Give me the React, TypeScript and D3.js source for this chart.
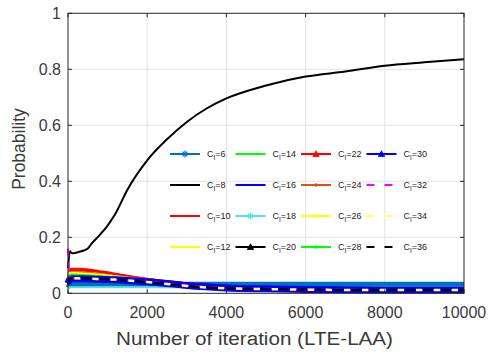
import React from "react";
import * as d3 from "d3";

// ---- data ----
const iterations = [0, 50, 100, 200, 300, 400, 500, 600, 800, 1000, 1200, 1500, 2000, 2500, 3000, 3500, 4000, 5000, 6000, 7000, 8000, 9000, 10000];

const p6 = [0.02, 0.03, 0.031, 0.031, 0.031, 0.031, 0.032, 0.032, 0.032, 0.032, 0.032, 0.032, 0.032, 0.032, 0.032, 0.032, 0.032, 0.032, 0.032, 0.032, 0.032, 0.032, 0.032];
const p8 = [0.09, 0.15, 0.143, 0.145, 0.149, 0.153, 0.16, 0.178, 0.208, 0.242, 0.285, 0.37, 0.475, 0.55, 0.612, 0.66, 0.696, 0.742, 0.774, 0.792, 0.813, 0.825, 0.836];
const p10 = [0.06, 0.085, 0.088, 0.088, 0.088, 0.087, 0.085, 0.083, 0.079, 0.075, 0.07, 0.063, 0.052, 0.043, 0.036, 0.031, 0.027, 0.022, 0.019, 0.017, 0.015, 0.014, 0.013];
const p12 = [0.07, 0.078, 0.078, 0.077, 0.076, 0.075, 0.074, 0.073, 0.07, 0.067, 0.064, 0.058, 0.049, 0.041, 0.035, 0.03, 0.026, 0.021, 0.018, 0.016, 0.014, 0.013, 0.012];
const p14 = [0.06, 0.07, 0.07, 0.07, 0.069, 0.068, 0.067, 0.066, 0.064, 0.062, 0.059, 0.054, 0.046, 0.039, 0.033, 0.028, 0.025, 0.02, 0.017, 0.015, 0.014, 0.013, 0.012];
const p16 = [0.04, 0.05, 0.051, 0.051, 0.05, 0.05, 0.049, 0.049, 0.048, 0.047, 0.046, 0.044, 0.039, 0.033, 0.027, 0.022, 0.019, 0.016, 0.014, 0.013, 0.012, 0.012, 0.012];
const p18 = [0.02, 0.022, 0.022, 0.022, 0.022, 0.022, 0.022, 0.022, 0.022, 0.022, 0.022, 0.022, 0.022, 0.022, 0.022, 0.022, 0.022, 0.022, 0.022, 0.022, 0.022, 0.022, 0.022];
const p20 = [0.035, 0.05, 0.052, 0.052, 0.052, 0.051, 0.051, 0.05, 0.049, 0.048, 0.047, 0.045, 0.04, 0.034, 0.028, 0.023, 0.019, 0.016, 0.014, 0.013, 0.012, 0.012, 0.012];
const p22 = [0.065, 0.08, 0.082, 0.082, 0.082, 0.081, 0.08, 0.079, 0.076, 0.072, 0.068, 0.061, 0.051, 0.042, 0.035, 0.03, 0.026, 0.021, 0.018, 0.016, 0.015, 0.014, 0.013];
const p24 = [0.068, 0.076, 0.076, 0.076, 0.075, 0.074, 0.073, 0.072, 0.069, 0.066, 0.062, 0.057, 0.048, 0.04, 0.034, 0.029, 0.025, 0.021, 0.018, 0.016, 0.014, 0.013, 0.012];
const p26 = [0.066, 0.073, 0.073, 0.073, 0.072, 0.071, 0.07, 0.069, 0.067, 0.064, 0.061, 0.056, 0.047, 0.04, 0.034, 0.029, 0.025, 0.02, 0.017, 0.015, 0.014, 0.013, 0.012];
const p28 = [0.058, 0.066, 0.066, 0.066, 0.065, 0.064, 0.064, 0.063, 0.061, 0.059, 0.056, 0.052, 0.045, 0.038, 0.032, 0.027, 0.024, 0.019, 0.016, 0.015, 0.014, 0.013, 0.012];
const p30 = [0.035, 0.05, 0.052, 0.052, 0.052, 0.052, 0.051, 0.051, 0.05, 0.049, 0.048, 0.046, 0.041, 0.035, 0.028, 0.023, 0.019, 0.016, 0.014, 0.013, 0.012, 0.012, 0.012];
const p32 = [0.16, 0.06, 0.054, 0.053, 0.053, 0.052, 0.052, 0.051, 0.05, 0.049, 0.048, 0.046, 0.041, 0.035, 0.028, 0.023, 0.019, 0.016, 0.014, 0.013, 0.012, 0.012, 0.012];
const p34 = [0.03, 0.052, 0.054, 0.054, 0.053, 0.053, 0.052, 0.052, 0.051, 0.05, 0.049, 0.046, 0.04, 0.033, 0.026, 0.021, 0.018, 0.015, 0.013, 0.012, 0.012, 0.012, 0.012];
const p36 = [0.03, 0.052, 0.054, 0.054, 0.053, 0.053, 0.052, 0.052, 0.051, 0.05, 0.049, 0.046, 0.04, 0.033, 0.026, 0.021, 0.018, 0.015, 0.013, 0.012, 0.012, 0.012, 0.012];

const ciLabels = ["6", "8", "10", "12", "14", "16", "18", "20", "22", "24", "26", "28", "30", "32", "34", "36"];
const seriesValues = [p6, p8, p10, p12, p14, p16, p18, p20, p22, p24, p26, p28, p30, p32, p34, p36];

const xTicks = [0, 2000, 4000, 6000, 8000, 10000];
const yTicks = [0, 0.2, 0.4, 0.6, 0.8, 1];

// ---- styles ----
type Style = { color: string; width: number; dash?: string; dashOffset?: number; marker?: "star" | "tri" | "dot"; legendWidth?: number };
const styles: Style[] = [
  { color: "#0072BD", width: 5, marker: "star", legendWidth: 2 },
  { color: "#000000", width: 2 },
  { color: "#FF0000", width: 2 },
  { color: "#FFFF00", width: 2 },
  { color: "#00FF00", width: 2 },
  { color: "#0000FF", width: 2 },
  { color: "#4FE3E8", width: 2, marker: "star" },
  { color: "#000000", width: 2, marker: "tri" },
  { color: "#FF0000", width: 2, marker: "tri" },
  { color: "#D95319", width: 2, marker: "dot" },
  { color: "#FFFF00", width: 2, marker: "dot" },
  { color: "#00FF00", width: 2, marker: "dot" },
  { color: "#0000FF", width: 7, marker: "tri", legendWidth: 2 },
  { color: "#FF00FF", width: 2, dash: "8,6" },
  { color: "#FFFF66", width: 2.5, dash: "6,12", dashOffset: -11 },
  { color: "#000000", width: 2.5, dash: "10,8" },
];

const W = 491;
const H = 354;
const left = 68;
const right = 464;
const top = 13.3;
const bottom = 293.3;

function Marker({ kind, x, y, color }: { kind?: string; x: number; y: number; color: string }) {
  if (!kind) return null;
  if (kind === "tri") {
    const s = 3.2;
    return <path d={`M${x},${y - s}L${x + s},${y + s * 0.8}L${x - s},${y + s * 0.8}Z`} fill={color} stroke={color} strokeWidth={0.8} />;
  }
  if (kind === "star") {
    const s = 3.5;
    return (
      <g stroke={color} strokeWidth={1.2}>
        <line x1={x - s} y1={y} x2={x + s} y2={y} />
        <line x1={x} y1={y - s} x2={x} y2={y + s} />
        <line x1={x - s * 0.7} y1={y - s * 0.7} x2={x + s * 0.7} y2={y + s * 0.7} />
        <line x1={x - s * 0.7} y1={y + s * 0.7} x2={x + s * 0.7} y2={y - s * 0.7} />
      </g>
    );
  }
  return <circle cx={x} cy={y} r={1.8} fill={color} />;
}

export default function App() {
  const x = d3.scaleLinear().domain([0, 10000]).range([left, right]);
  const y = d3.scaleLinear().domain([0, 1]).range([bottom, top]);
  const line = d3
    .line<number>()
    .x((_, i) => x(iterations[i]))
    .y((d) => y(d))
    .curve(d3.curveMonotoneX);

  const axisColor = "#262626";
  const tickColor = "#3a3a3a";
  const font = "'Liberation Sans', Arial, Helvetica, sans-serif";
  const tickLen = 4;

  const legendRowY = [154, 185, 216, 247];
  const legendColX = [170, 235.5, 301, 366.5];

  return (
    <svg width={W} height={H} style={{ position: "absolute", left: 0, top: 0, background: "#fff" }} fontFamily={font}>
      <rect x={0} y={0} width={W} height={H} fill="#fff" />
      {/* grid */}
      <g stroke="#e3e3e3" strokeWidth={1}>
        {xTicks.slice(1, -1).map((t) => (
          <line key={"gx" + t} x1={x(t)} x2={x(t)} y1={top} y2={bottom} />
        ))}
        {yTicks.slice(1, -1).map((t) => (
          <line key={"gy" + t} x1={left} x2={right} y1={y(t)} y2={y(t)} />
        ))}
      </g>
      {/* series */}
      <g fill="none" strokeLinejoin="round">
        {seriesValues.map((vals, i) => (
          <path
            key={"s" + i}
            d={line(vals) || ""}
            stroke={styles[i].color}
            strokeWidth={styles[i].width}
            strokeDasharray={styles[i].dash}
            strokeDashoffset={styles[i].dashOffset}
          />
        ))}
      </g>
      {/* axes box */}
      <rect x={left} y={top} width={right - left} height={bottom - top} fill="none" stroke={axisColor} strokeWidth={1} />
      <g stroke={axisColor} strokeWidth={1}>
        {xTicks.map((t) => (
          <g key={"tx" + t}>
            <line x1={x(t)} x2={x(t)} y1={bottom} y2={bottom - tickLen} />
            <line x1={x(t)} x2={x(t)} y1={top} y2={top + tickLen} />
          </g>
        ))}
        {yTicks.map((t) => (
          <g key={"ty" + t}>
            <line x1={left} x2={left + tickLen} y1={y(t)} y2={y(t)} />
            <line x1={right} x2={right - tickLen} y1={y(t)} y2={y(t)} />
          </g>
        ))}
      </g>
      {/* tick labels */}
      <g fill={tickColor} fontSize={16}>
        {xTicks.map((t) => (
          <text key={"lx" + t} x={x(t)} y={317.5} textAnchor="middle">
            {t}
          </text>
        ))}
        {yTicks.map((t) => (
          <text key={"ly" + t} x={61} y={y(t)} dy="0.36em" textAnchor="end">
            {t}
          </text>
        ))}
      </g>
      <text x={254.5} y={345} textAnchor="middle" fontSize={18} fill={tickColor} textLength={277} lengthAdjust="spacingAndGlyphs">
        Number of iteration (LTE-LAA)
      </text>
      <text transform={`translate(25,149) rotate(-90)`} textAnchor="middle" fontSize={17.5} fill={tickColor}>
        Probability
      </text>
      {/* legend */}
      <g>
        {ciLabels.map((lab, i) => {
          const col = Math.floor(i / 4);
          const row = i % 4;
          const lx = legendColX[col];
          const ly = legendRowY[row];
          const st = styles[i];
          return (
            <g key={"lg" + i}>
              <line
                x1={lx}
                x2={lx + 30}
                y1={ly}
                y2={ly}
                stroke={st.color}
                strokeWidth={st.legendWidth ?? 2}
                strokeDasharray={st.dash ? "8,10" : undefined}
              />
              <Marker kind={st.marker} x={lx + 15} y={ly} color={st.color} />
              <text x={lx + 37} y={ly + 3} fontSize={9} fill="#222">
                C<tspan fontSize={6.5} dy={2.5}>I</tspan>
                <tspan dy={-2.5}>={lab}</tspan>
              </text>
            </g>
          );
        })}
      </g>
    </svg>
  );
}
